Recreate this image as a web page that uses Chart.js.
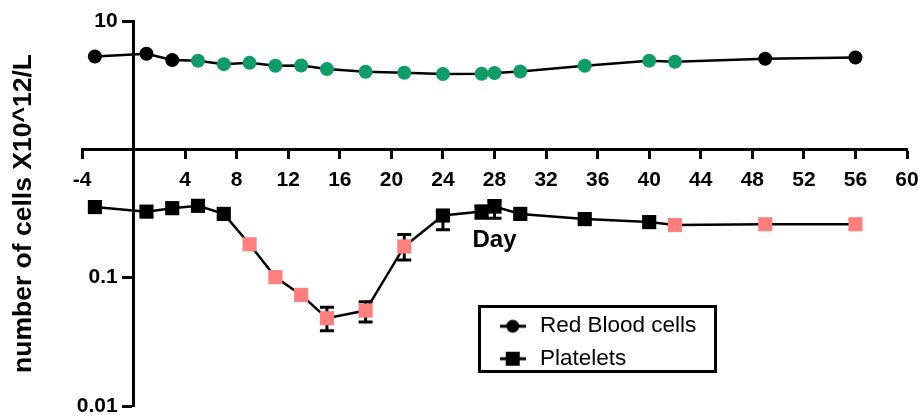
<!DOCTYPE html>
<html>
<head>
<meta charset="utf-8">
<script src="https://cdn.jsdelivr.net/npm/chart.js@4/dist/chart.umd.min.js"></script>
<style>
  html, body { margin: 0; padding: 0; background: #fff; }
  #wrap { width: 921px; height: 416px; position: relative; }
</style>
</head>
<body>
<div id="wrap"><canvas id="c" width="921" height="416"></canvas></div>
<script>
// ---------- data ----------
const days = [-3, 1, 3, 5, 7, 9, 11, 13, 15, 18, 21, 24, 27, 28, 30, 35, 40, 42, 49, 56];
const rbcValues = [5.29, 5.55, 4.96, 4.90, 4.61, 4.72, 4.48, 4.50, 4.22, 4.02, 3.95, 3.86, 3.88, 3.93, 4.04, 4.48, 4.90, 4.81, 5.08, 5.20];
const rbcColors = ['k','k','k','g','g','g','g','g','g','g','g','g','g','g','g','g','g','g','k','k'];
const pltValues = [0.355, 0.327, 0.348, 0.363, 0.314, 0.182, 0.101, 0.0734, 0.0483, 0.0554, 0.175, 0.305, 0.3275, 0.358, 0.314, 0.286, 0.271, 0.257, 0.261, 0.261];
const pltColors = ['k','k','k','k','k','p','p','p','p','p','p','k','k','k','k','k','k','p','p','p'];
const pltErrLow  = [null, null, null, null, null, null, null, null, 0.0385, 0.0452, 0.1376, 0.236, 0.29, 0.29, null, null, null, null, null, null];
const pltErrHigh = [null, null, null, null, null, null, null, null, 0.0589, 0.0648, 0.2168, 0.33, 0.36, 0.40, null, null, null, null, null, null];
const seriesLabels = ['Red Blood cells', 'Platelets'];
const xTickValues = [-4, 0, 4, 8, 12, 16, 20, 24, 28, 32, 36, 40, 44, 48, 52, 56, 60];
const xTickLabels = ['-4', '', '4', '8', '12', '16', '20', '24', '28', '32', '36', '40', '44', '48', '52', '56', '60'];
const yTickValues = [0.01, 0.1, 1, 10];
const yTickLabels = ['0.01', '0.1', '', '10'];
const xTitle = 'Day';
const yTitle = 'number of cells X10^12/L';

// ---------- styles ----------
const palette = { k: '#000000', g: '#0f9c66', p: '#ff7f7f' };
const FAMILY = "'Liberation Sans', Arial, Helvetica, sans-serif";
Chart.defaults.color = '#000';
Chart.defaults.font.family = FAMILY;
const Y_LABEL_GAP = '  \u2009'; // keeps y tick labels clear of the tick marks (axis sits inside the plot)

function makeIcon(shape) {
  const c = document.createElement('canvas');
  c.width = 26; c.height = 16;
  const g = c.getContext('2d');
  g.strokeStyle = '#000'; g.lineWidth = 3;
  g.beginPath(); g.moveTo(0, 8); g.lineTo(26, 8); g.stroke();
  g.fillStyle = '#000';
  if (shape === 'circle') { g.beginPath(); g.arc(13, 8, 6.5, 0, Math.PI * 2); g.fill(); }
  else { g.fillRect(6, 1, 14, 14); }
  return c;
}
const legendIcons = [makeIcon('circle'), makeIcon('rect')];

const errorBars = {
  id: 'errorBars',
  beforeDatasetsDraw(chart) {
    const { ctx, scales: { x, y } } = chart;
    ctx.save();
    ctx.strokeStyle = '#000';
    ctx.lineWidth = 3;
    days.forEach((d, i) => {
      if (pltErrLow[i] == null) return;
      const px = x.getPixelForValue(d);
      const yl = y.getPixelForValue(pltErrLow[i]);
      const yh = y.getPixelForValue(pltErrHigh[i]);
      ctx.beginPath();
      ctx.moveTo(px, yl); ctx.lineTo(px, yh);
      ctx.moveTo(px - 7, yl); ctx.lineTo(px + 7, yl);
      ctx.moveTo(px - 7, yh); ctx.lineTo(px + 7, yh);
      ctx.stroke();
    });
    ctx.restore();
  }
};

const legendPlacer = {
  id: 'legendPlacer',
  afterLayout(chart) {
    const lg = chart.legend;
    const w = lg.width;
    lg.left = 486.75; lg.top = 305;
    lg.right = lg.left + w; lg.bottom = lg.top + 80;
    lg.height = 80;
  },
  afterDraw(chart) {
    const lg = chart.legend;
    const ctx = chart.ctx;
    ctx.save();
    ctx.strokeStyle = '#000';
    ctx.lineWidth = 3;
    ctx.strokeRect(lg.left - 7.25, lg.top + 1.5, 236, 65);
    ctx.restore();
  }
};

const zeroPad = (s) => { s.paddingTop = 0; s.paddingBottom = 0; s.paddingLeft = 0; s.paddingRight = 0; };

new Chart(document.getElementById('c'), {
  type: 'line',
  data: {
    datasets: [
      {
        label: seriesLabels[0],
        data: days.map((d, i) => ({ x: d, y: rbcValues[i] })),
        borderColor: '#000', borderWidth: 2.5,
        pointStyle: 'circle', pointRadius: 7, pointHoverRadius: 7, pointBorderWidth: 0,
        pointBackgroundColor: rbcColors.map(c => palette[c]),
        pointBorderColor: rbcColors.map(c => palette[c]),
        tension: 0, fill: false
      },
      {
        label: seriesLabels[1],
        data: days.map((d, i) => ({ x: d, y: pltValues[i] })),
        borderColor: '#000', borderWidth: 2.5,
        pointStyle: 'rect', pointRadius: 10, pointHoverRadius: 10, pointBorderWidth: 0,
        pointBackgroundColor: pltColors.map(c => palette[c]),
        pointBorderColor: pltColors.map(c => palette[c]),
        tension: 0, fill: false
      }
    ]
  },
  options: {
    responsive: false,
    animation: false,
    events: [],
    layout: { padding: { left: 0, right: 14, top: 21, bottom: 10 } },
    plugins: {
      tooltip: { enabled: false },
      legend: {
        display: true,
        position: 'chartArea',
        align: 'start',
        labels: {
          usePointStyle: true,
          pointStyleWidth: 32,
          padding: 10,
          color: '#000',
          font: { family: FAMILY, size: 22.5, weight: 'normal' },
          generateLabels: (chart) => chart.data.datasets.map((ds, i) => ({
            text: ds.label, pointStyle: legendIcons[i], fontColor: '#000',
            fillStyle: '#000', strokeStyle: '#000', lineWidth: 0, hidden: false, datasetIndex: i
          }))
        }
      }
    },
    scales: {
      x: {
        type: 'linear',
        position: { y: 1 },
        min: -4, max: 60,
        afterBuildTicks: (s) => { s.ticks = xTickValues.map(v => ({ value: v })); },
        afterFit: zeroPad,
        ticks: {
          autoSkip: false, maxRotation: 0,
          padding: 10,
          font: { family: FAMILY, size: 21, weight: 'bold' },
          color: '#000',
          callback: (v) => { const i = xTickValues.indexOf(v); return i >= 0 ? xTickLabels[i] : ''; }
        },
        grid: { display: true, drawOnChartArea: false, drawTicks: true, tickLength: 8, tickWidth: 3, tickColor: '#000' },
        border: { display: true, width: 3, color: '#000' },
        title: {
          display: true, text: xTitle, color: '#000',
          font: { family: FAMILY, size: 24, weight: 'bold' },
          padding: { top: 23, bottom: 0 }
        }
      },
      y: {
        type: 'logarithmic',
        position: { x: 0 },
        min: 0.01, max: 10,
        afterBuildTicks: (s) => { s.ticks = yTickValues.map(v => ({ value: v })); },
        afterFit: zeroPad,
        ticks: {
          padding: 5,
          font: { family: FAMILY, size: 21, weight: 'bold' },
          color: '#000',
          callback: (v) => { const i = yTickValues.indexOf(v); return i >= 0 && yTickLabels[i] ? yTickLabels[i] + Y_LABEL_GAP : ''; }
        },
        grid: { display: true, drawOnChartArea: false, drawTicks: true, tickLength: 10, tickWidth: 3, tickColor: '#000' },
        border: { display: true, width: 3, color: '#000' }
      },
      yTitle: {
        type: 'linear',
        position: 'left',
        display: true,
        afterFit: (s) => { s.width = 82; zeroPad(s); },
        ticks: { display: false },
        grid: { display: false },
        border: { display: false },
        title: {
          display: true, text: yTitle, color: '#000',
          font: { family: FAMILY, size: 26.5, weight: 'bold' },
          padding: { top: 8, bottom: 0 }
        }
      }
    }
  },
  plugins: [errorBars, legendPlacer]
});
</script>
</body>
</html>
